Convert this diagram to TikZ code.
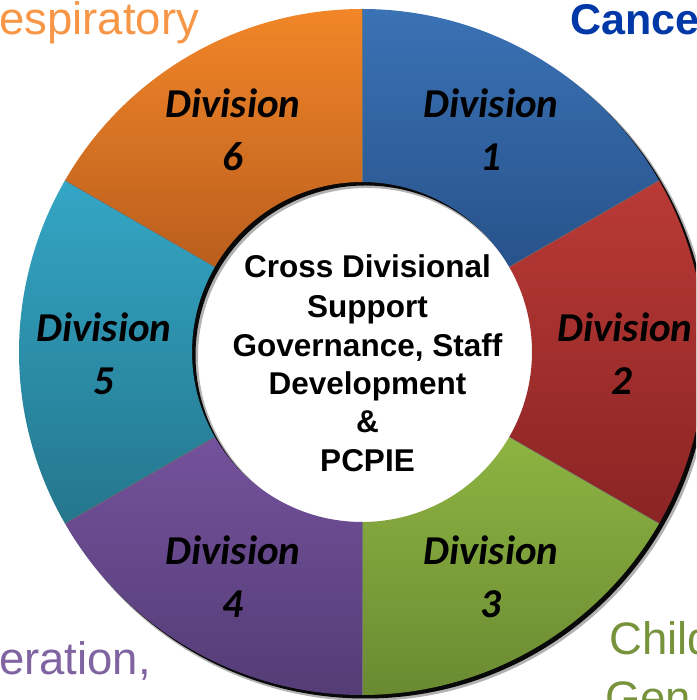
\documentclass[tikz,border=0pt]{standalone}
\usepackage{fontspec}
\setmainfont{Liberation Sans}
\newfontfamily\calib{Carlito}
\definecolor{bluetop}{RGB}{58,114,181}
\definecolor{bluebot}{RGB}{40,82,138}
\definecolor{redtop}{RGB}{186,58,54}
\definecolor{redbot}{RGB}{138,36,36}
\definecolor{greentop}{RGB}{142,180,66}
\definecolor{greenbot}{RGB}{106,138,50}
\definecolor{purptop}{RGB}{116,82,156}
\definecolor{purpbot}{RGB}{84,60,118}
\definecolor{tealtop}{RGB}{52,166,198}
\definecolor{tealbot}{RGB}{36,118,140}
\definecolor{orangetop}{RGB}{242,134,40}
\definecolor{orangebot}{RGB}{186,94,30}
\definecolor{txtorange}{RGB}{247,150,70}
\definecolor{txtblue}{RGB}{0,56,168}
\definecolor{txtpurple}{RGB}{128,100,162}
\definecolor{txtgreen}{RGB}{119,147,60}
\tikzset{
  divlabel/.style={anchor=base, inner sep=0pt, font=\calib\bfseries\itshape\fontsize{41}{53}\selectfont, text=black},
  centerline/.style={anchor=base, inner sep=0pt, font=\bfseries\fontsize{31.5}{38.8}\selectfont, text=black},
  outertext/.style={anchor=base west, inner sep=0pt, font=\fontsize{45.5}{52}\selectfont},
  sepline/.style={draw=black!55, line width=0.5pt}
}
\newcommand\ringseg[4]{%
  \shade[top color=#3, bottom color=#4]
    (#1:343) arc[start angle=#1, end angle=#2, radius=343]
    -- (#2:170) arc[start angle=#2, end angle=#1, radius=170] -- cycle;}
\begin{document}
\begin{tikzpicture}[x=1pt,y=1pt]
\useasboundingbox (0,0) rectangle (696,700);
\clip (0,0) rectangle (696,700);
\fill[white] (0,0) rectangle (696,700);
\coordinate (c) at (362,348);
% shadow of the ring
\begin{scope}[shift={(c)}]
  \fill[black, opacity=0.3, even odd rule] (5,-5) circle (344) (5,-5) circle (169);
  \fill[black, opacity=0.95, even odd rule] (3.5,-3.5) circle (343) (3.5,-3.5) circle (170);
  % segments
  \ringseg{30}{90}{bluetop}{bluebot}
  \ringseg{-30}{30}{redtop}{redbot}
  \ringseg{270}{330}{greentop}{greenbot}
  \ringseg{210}{270}{purptop}{purpbot}
  \ringseg{150}{210}{tealtop}{tealbot}
  \ringseg{90}{150}{orangetop}{orangebot}
  \foreach \a in {30,90,150,210,270,330} \draw[sepline] (\a:170) -- (\a:343);
\end{scope}
% division labels
\node[divlabel] (d1a) at (491,582) {Division};
\node[divlabel] (d1b) at (491,529) {1};
\node[divlabel] (d2a) at (625,358) {Division};
\node[divlabel] (d2b) at (622,305) {2};
\node[divlabel] (d3a) at (491,135) {Division};
\node[divlabel] (d3b) at (491,82) {3};
\node[divlabel] (d4a) at (233,135) {Division};
\node[divlabel] (d4b) at (233,82) {4};
\node[divlabel] (d5a) at (104,358) {Division};
\node[divlabel] (d5b) at (104,305) {5};
\node[divlabel] (d6a) at (233,582) {Division};
\node[divlabel] (d6b) at (233,529) {6};
% centre text
\node[centerline] (t1) at (367.5,422) {Cross Divisional};
\node[centerline] (t2) at (367.5,382) {Support};
\node[centerline] (t3) at (367.5,343) {Governance, Staff};
\node[centerline] (t4) at (367.5,305) {Development};
\node[centerline] (t5) at (367.5,267) {\&};
\node[centerline] (t6) at (367.5,228) {PCPIE};
% outer texts
\node[outertext, text=txtorange] (o1) at (-1,665) {espiratory};
\node[outertext, text=txtblue, font=\bfseries\fontsize{43}{52}\selectfont] (o2) at (570,665) {Cancer};
\node[outertext, text=txtpurple] (o3) at (-1,25) {eration,};
\node[outertext, text=txtgreen] (o4) at (609,45) {Child};
\node[outertext, text=txtgreen] (o5) at (605,-13) {Gen};
\end{tikzpicture}
\end{document}
